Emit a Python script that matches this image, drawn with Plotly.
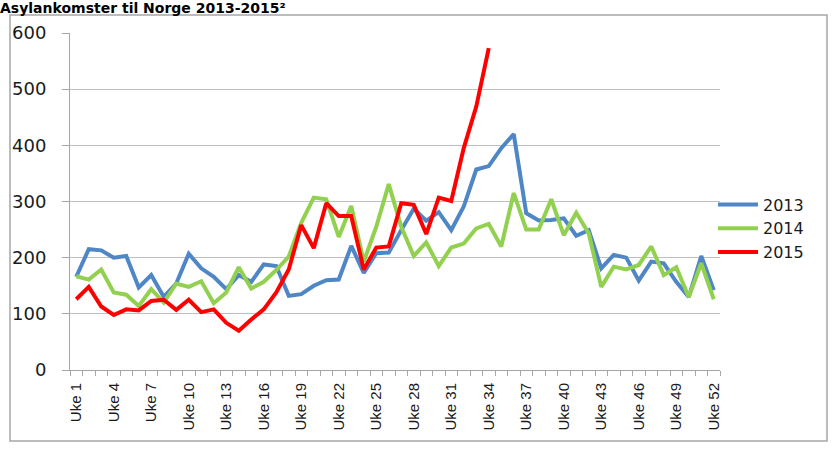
import plotly.graph_objects as go

weeks = list(range(1, 53))
tick_weeks = weeks[::3]
tick_labels = [f"Uke {w}" for w in tick_weeks]

y2013 = [166, 215, 213, 200, 203, 147, 169, 130, 154, 207, 181, 166, 144, 169, 157, 188,
         185, 132, 135, 150, 160, 161, 221, 173, 208, 209, 249, 287, 266, 281, 249, 291,
         357, 363, 395, 420, 279, 266, 267, 270, 239, 249, 181, 205, 200, 159, 193, 190,
         157, 130, 203, 142]
y2014 = [167, 161, 179, 138, 134, 114, 144, 120, 154, 148, 158, 119, 138, 183, 145, 157,
         178, 202, 262, 307, 304, 237, 292, 193, 255, 331, 255, 203, 227, 185, 218, 225,
         252, 260, 220, 315, 250, 250, 304, 240, 280, 243, 148, 184, 179, 187, 220, 169,
         183, 130, 190, 126]
y2015 = [126, 148, 113, 98, 108, 106, 123, 125, 107, 125, 103, 108, 84, 70, 90, 108,
         138, 179, 258, 217, 297, 274, 274, 179, 218, 220, 297, 294, 242, 307, 301, 395,
         469, 573]

series = [("2013", y2013, "#4F86C6"), ("2014", y2014, "#92D050"), ("2015", y2015, "#FF0000")]

fig = go.Figure()
for name, vals, col in series:
    fig.add_trace(go.Scatter(x=weeks[:len(vals)], y=vals, name=name, mode="lines",
                             line=dict(color=col, width=4)))

L, R, T, B = 70, 112, 33, 80
pw = 832 - L - R
ph = 450 - T - B

def px_x(p):
    return (p - L) / pw

def px_y(p):
    return (450 - B - p) / ph

fig.update_layout(
    width=832, height=450,
    margin=dict(l=L, r=R, t=T, b=B),
    paper_bgcolor="white", plot_bgcolor="white",
    font=dict(family="DejaVu Sans", color="#1a1a1a"),
    title=dict(text="Asylankomster til Norge 2013-2015²", x=0, xref="container",
               xanchor="left", y=1 - 12.5 / 450, yref="container", yanchor="bottom",
               font=dict(family="DejaVu Sans", size=14, color="#000000", weight="bold")),
    showlegend=True,
    legend=dict(x=px_x(713), xanchor="left", y=px_y(228.5), yanchor="middle",
                font=dict(family="DejaVu Sans", size=16, color="#1a1a1a"),
                bgcolor="rgba(0,0,0,0)", itemwidth=40, tracegroupgap=0),
    xaxis=dict(range=[0.5, 52.5], tickmode="array", tickvals=tick_weeks, ticktext=tick_labels,
               tickangle=-90, ticks="", showgrid=False, zeroline=False,
               showline=True, linecolor="#A6A6A6", linewidth=1,
               tickfont=dict(family="Liberation Sans", size=15, color="#1a1a1a"),
               ticklabelstandoff=6,
               minor=dict(ticks="outside", tick0=0.5, dtick=1, ticklen=5,
                          tickcolor="#A6A6A6", showgrid=False)),
    yaxis=dict(range=[0, 600], tickmode="linear", tick0=0, dtick=100,
               showgrid=True, gridcolor="#BFBFBF", gridwidth=1, zeroline=False,
               showline=True, linecolor="#A6A6A6", linewidth=1,
               ticks="outside", ticklen=7, tickcolor="#A6A6A6",
               tickfont=dict(family="DejaVu Sans", size=18, color="#1a1a1a"),
               ticklabelstandoff=12),
    shapes=[dict(type="rect", xref="paper", yref="paper",
                 x0=px_x(10), x1=px_x(827), y0=px_y(441), y1=px_y(15),
                 line=dict(color="#A6A6A6", width=1.5), fillcolor="rgba(0,0,0,0)", layer="below")],
)

fig.write_html("out.html", config={"displayModeBar": False},
               post_script="document.body.style.margin='0';document.body.style.overflow='hidden';")
